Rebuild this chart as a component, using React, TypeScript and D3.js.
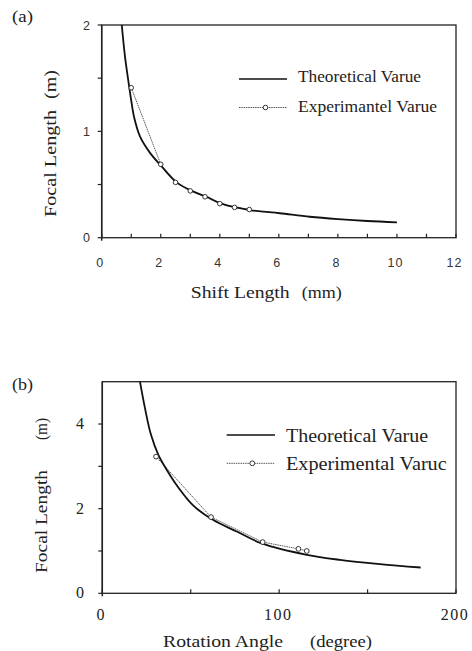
import React from "react";
import * as d3 from "d3";

// Panel (a) data
const theoA_x = [0.68, 0.79, 0.9, 1.0, 1.1, 1.3, 1.63, 2.03, 2.54, 3.05, 3.55, 4.06, 5.02, 6.03, 7.05, 8, 9, 10];
const theoA_y = [2.0, 1.7, 1.48, 1.29, 1.13, 0.95, 0.8, 0.67, 0.52, 0.44, 0.385, 0.32, 0.26, 0.23, 0.197, 0.175, 0.157, 0.145];
const expA_x = [1, 2, 2.5, 3, 3.5, 4, 4.5, 5];
const expA_y = [1.41, 0.69, 0.52, 0.44, 0.385, 0.32, 0.285, 0.265];
const xTicksA = [0, 1, 2, 3, 4, 5, 6, 7, 8, 9, 10, 11, 12];
const xLabelsA = [0, 2, 4, 6, 8, 10, 12];
const yTicksA = [0, 0.5, 1, 1.5, 2];
const yLabelsA = [0, 1, 2];

// Panel (b) data
const theoB_x = [21.3, 24.1, 27.5, 31.7, 36.4, 43, 51.5, 62.8, 76, 90.1, 115.6, 134.4, 157, 180];
const theoB_y = [5.0, 4.38, 3.75, 3.27, 2.92, 2.5, 2.07, 1.73, 1.46, 1.18, 0.91, 0.79, 0.69, 0.61];
const expB_x = [30.4, 61.5, 90.7, 110.9, 115.6];
const expB_y = [3.23, 1.8, 1.21, 1.05, 1.0];
const xTicksB = [0, 50, 100, 150, 200];
const xLabelsB = [0, 100, 200];
const yTicksB = [0, 1, 2, 3, 4];
const yLabelsB = [0, 2, 4];

const SERIF = "'Liberation Serif', 'DejaVu Serif', serif";
const SANS = "'Liberation Sans', Arial, sans-serif";

function zip(xs: number[], ys: number[]): [number, number][] {
  return xs.map((x, i) => [x, ys[i]]);
}

function T(props: { x: number; y: number; w: number; size: number; children: string; anchor?: string }) {
  return (
    <text x={props.x} y={props.y} fontFamily={SERIF} fontSize={props.size} fill="#222"
      textLength={props.w} lengthAdjust="spacingAndGlyphs">{props.children}</text>
  );
}

function VT(props: { x: number; yTop: number; yBot: number; size: number; children: string }) {
  // rotated text reading bottom-to-top, spanning yBot (start) to yTop (end); baseline at x
  const len = props.yBot - props.yTop;
  return (
    <text transform={`translate(${props.x},${props.yBot}) rotate(-90)`} x={0} y={0} fontFamily={SERIF}
      fontSize={props.size} fill="#222" textLength={len} lengthAdjust="spacingAndGlyphs">{props.children}</text>
  );
}

export default function App() {
  const xa = d3.scaleLinear().domain([0, 12]).range([101.7, 456]);
  const ya = d3.scaleLinear().domain([0, 2]).range([237.7, 25]);
  const xb = d3.scaleLinear().domain([0, 200]).range([102.3, 456]);
  const yb = d3.scaleLinear().domain([0, 5]).range([593.3, 381.7]);

  const theoLineA = d3.line<[number, number]>().x(d => xa(d[0])).y(d => ya(d[1])).curve(d3.curveCatmullRom.alpha(0.5));
  const expLineA = d3.line<[number, number]>().x(d => xa(d[0])).y(d => ya(d[1]));
  const theoLineB = d3.line<[number, number]>().x(d => xb(d[0])).y(d => yb(d[1])).curve(d3.curveCatmullRom.alpha(0.5));
  const expLineB = d3.line<[number, number]>().x(d => xb(d[0])).y(d => yb(d[1]));

  return (
    <svg width={472} height={651} style={{ position: "absolute", left: 0, top: 0, background: "#fff" }}>
      <rect x={0} y={0} width={472} height={651} fill="#fff" />
      {/* ===== Panel (a) ===== */}
      <T x={12} y={22} w={21} size={17}>(a)</T>
      <rect x={xa(0)} y={ya(2)} width={xa(12) - xa(0)} height={ya(0) - ya(2)} fill="none" stroke="#222" strokeWidth={1.3} />
      <line x1={xa(0)} x2={xa(0)} y1={ya(2)} y2={ya(0) + 3} stroke="#222" strokeWidth={1.5} />
      {xTicksA.map(t => (
        <line key={"xta" + t} x1={xa(t)} x2={xa(t)} y1={ya(0)} y2={ya(0) - 4} stroke="#222" strokeWidth={1.2} />
      ))}
      {yTicksA.map(t => (
        <line key={"yta" + t} x1={xa(0) - 4} x2={xa(0)} y1={ya(t)} y2={ya(t)} stroke="#222" strokeWidth={1.2} />
      ))}
      {xLabelsA.map(t => (
        <text key={"xla" + t} x={xa(t) - 1.5} y={266.5} textAnchor="middle" fontFamily={SANS} fontSize={12.5} fill="#333" letterSpacing={1}>{t}</text>
      ))}
      {yLabelsA.map(t => (
        <text key={"yla" + t} x={90} y={ya(t) + 4.5} textAnchor="end" fontFamily={SANS} fontSize={12.5} fill="#333">{t}</text>
      ))}
      <VT x={56} yTop={110} yBot={217} size={17}>Focal Length</VT>
      <VT x={56} yTop={70} yBot={99} size={17}>(m)</VT>
      <T x={190.7} y={297.5} w={99} size={17}>Shift Length</T>
      <T x={301.7} y={297.5} w={40} size={17}>(mm)</T>
      <path d={expLineA(zip(expA_x, expA_y)) || ""} fill="none" stroke="#555" strokeWidth={1} strokeDasharray="1.5,0.8" />
      <path d={theoLineA(zip(theoA_x, theoA_y)) || ""} fill="none" stroke="#111" strokeWidth={1.8} />
      {expA_x.map((x, i) => (
        <circle key={"pa" + i} cx={xa(x)} cy={ya(expA_y[i])} r={2.3} fill="#fff" stroke="#222" strokeWidth={0.9} />
      ))}
      <line x1={239} x2={287} y1={79} y2={79} stroke="#111" strokeWidth={1.6} />
      <T x={298} y={82} w={123} size={16.5}>Theoretical Varue</T>
      <line x1={239} x2={287} y1={107.5} y2={107.5} stroke="#555" strokeWidth={1} strokeDasharray="1.5,0.8" />
      <circle cx={265.5} cy={107.5} r={2.3} fill="#fff" stroke="#222" strokeWidth={0.9} />
      <T x={298} y={112} w={139} size={16.5}>Experimantel Varue</T>

      {/* ===== Panel (b) ===== */}
      <T x={12} y={390} w={21} size={17}>(b)</T>
      <rect x={xb(0)} y={yb(5)} width={xb(200) - xb(0)} height={yb(0) - yb(5)} fill="none" stroke="#222" strokeWidth={1.3} />
      <line x1={xb(0)} x2={xb(0)} y1={yb(5)} y2={yb(0) + 3} stroke="#222" strokeWidth={1.5} />
      {xTicksB.map(t => (
        <line key={"xtb" + t} x1={xb(t)} x2={xb(t)} y1={yb(0)} y2={yb(0) - 4} stroke="#222" strokeWidth={1.2} />
      ))}
      {yTicksB.map(t => (
        <line key={"ytb" + t} x1={xb(0) - 4} x2={xb(0)} y1={yb(t)} y2={yb(t)} stroke="#222" strokeWidth={1.2} />
      ))}
      {xLabelsB.map(t => (
        <text key={"xlb" + t} x={xb(t) - 1} y={620} textAnchor="middle" fontFamily={SERIF} fontSize={16} letterSpacing={1.5} fill="#222">{t}</text>
      ))}
      {yLabelsB.map(t => (
        <text key={"ylb" + t} x={84} y={yb(t) + 5} textAnchor="end" fontFamily={SERIF} fontSize={16} fill="#222">{t}</text>
      ))}
      <VT x={47} yTop={470} yBot={573} size={17}>Focal Length</VT>
      <VT x={47} yTop={418} yBot={440} size={17}>(m)</VT>
      <T x={163} y={646.5} w={120} size={17}>Rotation Angle</T>
      <T x={310} y={646.5} w={62} size={17}>(degree)</T>
      <path d={expLineB(zip(expB_x, expB_y)) || ""} fill="none" stroke="#555" strokeWidth={1} strokeDasharray="1.5,0.8" />
      <path d={theoLineB(zip(theoB_x, theoB_y)) || ""} fill="none" stroke="#111" strokeWidth={1.8} />
      {expB_x.map((x, i) => (
        <circle key={"pb" + i} cx={xb(x)} cy={yb(expB_y[i])} r={2.4} fill="#fff" stroke="#222" strokeWidth={0.9} />
      ))}
      <line x1={226.7} x2={275} y1={435} y2={435} stroke="#111" strokeWidth={1.6} />
      <T x={286} y={441.5} w={142} size={18}>Theoretical Varue</T>
      <line x1={226.7} x2={275} y1={463.3} y2={463.3} stroke="#555" strokeWidth={1} strokeDasharray="1.5,0.8" />
      <circle cx={252.3} cy={463.3} r={2.4} fill="#fff" stroke="#222" strokeWidth={0.9} />
      <T x={286} y={470} w={160.7} size={18}>Experimental Varuc</T>
    </svg>
  );
}
